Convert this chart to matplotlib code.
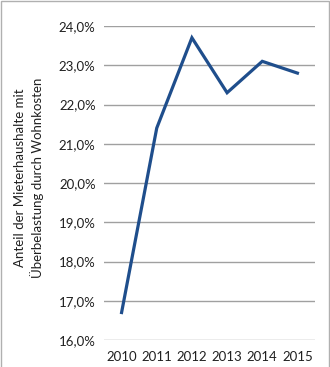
import matplotlib
matplotlib.use('Agg')
import matplotlib.pyplot as plt
import matplotlib.ticker as mtick
from matplotlib.patches import Rectangle

years = ['2010', '2011', '2012', '2013', '2014', '2015']
quote = [16.7, 21.4, 23.7, 22.3, 23.1, 22.8]  # Anteil in %

plt.rcParams['font.family'] = ['Lato', 'DejaVu Sans']

fig = plt.figure(figsize=(3.30, 3.67), dpi=100)
ax = fig.add_axes([104/330, 1 - 340/367, 211/330, 314/367])

x = range(len(years))
ax.plot(x, quote, color='#1f4e8c', lw=2.3, solid_joinstyle='miter', zorder=3)

ax.set_xlim(-0.5, len(years) - 0.5)
ax.set_ylim(16, 24)
ax.set_yticks([16, 17, 18, 19, 20, 21, 22, 23, 24])
ax.yaxis.set_major_formatter(mtick.FuncFormatter(lambda v, p: ('%.1f%%' % v).replace('.', ',')))
ax.set_xticks(list(x))
ax.set_xticklabels(years)
ax.grid(axis='y', color='#a0a0a0', lw=1)
ax.set_axisbelow(True)
for s in ax.spines.values():
    s.set_visible(False)
ax.tick_params(length=0, labelsize=9.5, colors='#202020', pad=6)
ax.tick_params(axis='x', pad=8)

fig.text(29/330, 1 - 178/367, 'Anteil der Mieterhaushalte mit\nÜberbelastung durch Wohnkosten',
         rotation=90, ha='center', va='center', fontsize=9.5, linespacing=1.3, color='#202020')

# Rahmen
fig.patches.append(Rectangle((0.003, -0.01), 0.994, 1.007, transform=fig.transFigure,
                             fill=False, edgecolor='#b0b0b0', lw=1))

fig.savefig('out.png', dpi=100)
